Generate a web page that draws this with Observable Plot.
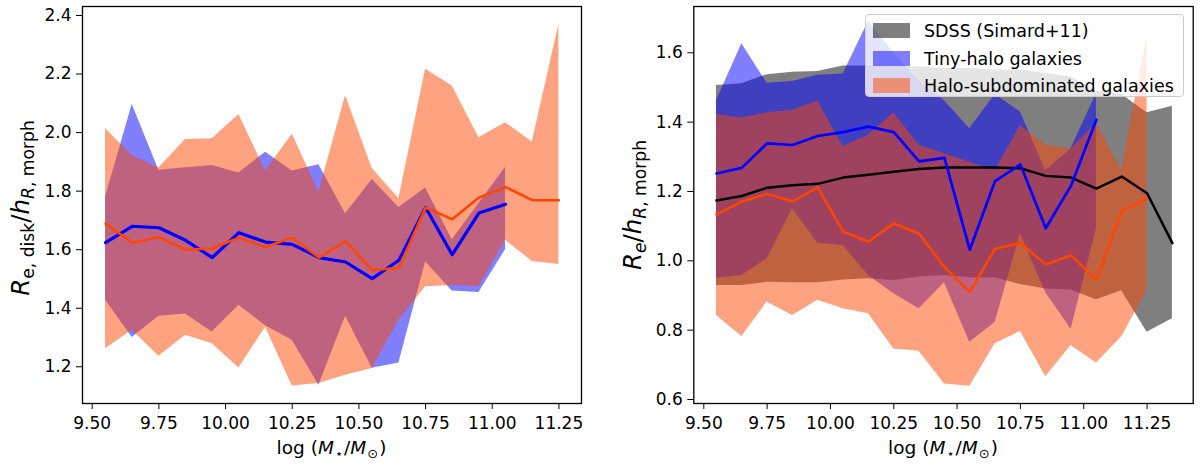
<!DOCTYPE html>
<html>
<head>
<meta charset="utf-8">
<script src="https://cdn.jsdelivr.net/npm/d3@7"></script>
<script src="https://cdn.jsdelivr.net/npm/@observablehq/plot@0.6"></script>
<style>
  html, body { margin: 0; padding: 0; background: #fff; }
  #wrap { position: relative; width: 1200px; height: 468px; font-family: "DejaVu Sans", sans-serif; color: #000; overflow: hidden; }
  .panel { position: absolute; top: 0; }
  .lbl { position: absolute; white-space: nowrap; font-family: "DejaVu Sans", sans-serif; line-height: 1; }
  .lbl i { font-style: italic; }
  .sub { font-size: 70%; position: relative; top: 0.3em; }
  .ylab { transform: translate(-50%, -50%) rotate(-90deg); font-size: 24.5px; }
  .xlab { transform: translate(-50%, -50%); font-size: 18.5px; }
  .xlab .sub { margin: 0 0.08em; }
  #legend { position: absolute; left: 865px; top: 14px; width: 319px; height: 83px; box-sizing: border-box;
            border: 1px solid #cccccc; border-radius: 4px; background: rgba(255,255,255,0.8); }
  .lrow { position: absolute; left: 0; height: 20px; font-size: 17.5px; white-space: nowrap; }
  .lpatch { position: absolute; left: 7px; top: 2px; width: 37px; height: 15px; }
  .ltext { position: absolute; left: 58px; top: 0px; line-height: 20px; }
</style>
</head>
<body>
<div id="wrap"></div>
<script>
// ---------- data ----------
// Left panel: R_e,disk / h_R,morph
const logMLeft = [9.55, 9.65, 9.75, 9.85, 9.95, 10.05, 10.15, 10.25, 10.35, 10.45, 10.55, 10.65, 10.75, 10.85, 10.95, 11.05, 11.15, 11.25];
const tinyDiskMed = [1.624, 1.680, 1.675, 1.632, 1.573, 1.658, 1.626, 1.618, 1.573, 1.558, 1.501, 1.564, 1.744, 1.583, 1.725, 1.755];
const tinyDiskLo  = [1.427, 1.300, 1.373, 1.380, 1.319, 1.410, 1.340, 1.291, 1.137, 1.373, 1.195, 1.213, 1.558, 1.459, 1.454, 1.600];
const tinyDiskHi  = [1.780, 2.096, 1.871, 1.880, 1.888, 1.862, 1.933, 1.869, 1.890, 1.723, 1.840, 1.744, 1.811, 1.634, 1.758, 1.882];
const subDiskMed = [1.689, 1.624, 1.643, 1.600, 1.604, 1.641, 1.609, 1.641, 1.573, 1.629, 1.530, 1.538, 1.744, 1.704, 1.778, 1.814, 1.769, 1.769];
const subDiskLo  = [1.262, 1.325, 1.236, 1.308, 1.279, 1.196, 1.335, 1.134, 1.143, 1.171, 1.194, 1.360, 1.473, 1.478, 1.473, 1.632, 1.560, 1.549];
const subDiskHi  = [2.013, 1.922, 1.879, 1.976, 1.979, 2.062, 1.869, 1.994, 1.797, 2.127, 1.877, 1.774, 2.216, 2.159, 1.982, 2.034, 1.968, 2.369];

// Right panel: R_e / h_R,morph
const logMRight = [9.55, 9.65, 9.75, 9.85, 9.95, 10.05, 10.15, 10.25, 10.35, 10.45, 10.55, 10.65, 10.75, 10.85, 10.95, 11.05, 11.15, 11.25, 11.35];
const sdssMed = [1.174, 1.187, 1.211, 1.218, 1.222, 1.240, 1.248, 1.257, 1.265, 1.269, 1.269, 1.269, 1.267, 1.245, 1.240, 1.208, 1.243, 1.195, 1.051];
const sdssLo  = [0.929, 0.929, 0.938, 0.937, 0.937, 0.945, 0.948, 0.943, 0.953, 0.958, 0.951, 0.951, 0.932, 0.919, 0.916, 0.888, 0.914, 0.794, 0.833];
const sdssHi  = [1.506, 1.511, 1.537, 1.544, 1.546, 1.562, 1.562, 1.560, 1.560, 1.555, 1.555, 1.550, 1.550, 1.540, 1.530, 1.490, 1.480, 1.427, 1.446];
const tinyMed = [1.252, 1.268, 1.339, 1.334, 1.360, 1.371, 1.387, 1.371, 1.287, 1.297, 1.032, 1.230, 1.278, 1.094, 1.217, 1.407];
const tinyLo  = [0.950, 0.958, 1.006, 1.150, 1.051, 1.044, 0.958, 0.905, 0.862, 0.937, 0.765, 0.822, 1.078, 0.908, 0.803, 1.092];
const tinyHi  = [1.462, 1.626, 1.512, 1.517, 1.535, 1.539, 1.690, 1.600, 1.520, 1.462, 1.381, 1.480, 1.429, 1.260, 1.323, 1.482];
const subMed = [1.134, 1.171, 1.193, 1.171, 1.212, 1.084, 1.055, 1.108, 1.078, 0.982, 0.910, 1.035, 1.052, 0.989, 1.016, 0.945, 1.143, 1.179];
const subLo  = [0.842, 0.782, 0.881, 0.842, 0.886, 0.862, 0.847, 0.746, 0.739, 0.645, 0.638, 0.761, 0.796, 0.666, 0.756, 0.705, 0.781, 0.915];
const subHi  = [1.422, 1.412, 1.427, 1.434, 1.461, 1.330, 1.362, 1.427, 1.333, 1.309, 1.284, 1.260, 1.390, 1.333, 1.323, 1.395, 1.260, 1.650];

const xTicks = [9.50, 9.75, 10.00, 10.25, 10.50, 10.75, 11.00, 11.25];
const yTicksLeft = [1.2, 1.4, 1.6, 1.8, 2.0, 2.2, 2.4];
const yTicksRight = [0.6, 0.8, 1.0, 1.2, 1.4, 1.6];

const legendLabels = ["SDSS (Simard+11)", "Tiny-halo galaxies", "Halo-subdominated galaxies"];

// ---------- build tables ----------
const rows = (xs, med, lo, hi) => med.map((m, i) => ({x: xs[i], med: m, lo: lo[i], hi: hi[i]}));
const tinyL = rows(logMLeft, tinyDiskMed, tinyDiskLo, tinyDiskHi);
const subL = rows(logMLeft, subDiskMed, subDiskLo, subDiskHi);
const sdssR = rows(logMRight, sdssMed, sdssLo, sdssHi);
const tinyR = rows(logMRight, tinyMed, tinyLo, tinyHi);
const subR = rows(logMRight, subMed, subLo, subHi);

const BLUE = "#0000ff", ORANGE = "#ff4500", BLACK = "#000000";
const styleObj = {fontFamily: "DejaVu Sans, sans-serif", fontSize: "17px", color: "black", background: "transparent", overflow: "visible"};

const axes = (yTicks) => [
  Plot.axisX({ticks: xTicks, tickFormat: d3.format(".2f"), tickSize: 6, tickPadding: 7, label: null}),
  Plot.axisY({ticks: yTicks, tickFormat: d3.format(".1f"), tickSize: 6, tickPadding: 5, label: null}),
  Plot.frame({stroke: "black", strokeWidth: 1.3})
];

const left = Plot.plot({
  width: 600, height: 468,
  marginLeft: 82, marginRight: 19, marginTop: 6, marginBottom: 65,
  x: {domain: [9.4636, 11.3347]},
  y: {domain: [1.0746, 2.4307]},
  style: styleObj,
  marks: [
    Plot.areaY(tinyL, {x: "x", y1: "lo", y2: "hi", fill: BLUE, fillOpacity: 0.5}),
    Plot.areaY(subL, {x: "x", y1: "lo", y2: "hi", fill: ORANGE, fillOpacity: 0.5}),
    Plot.lineY(tinyL, {x: "x", y: "med", stroke: BLUE, strokeWidth: 3.2}),
    Plot.lineY(subL, {x: "x", y: "med", stroke: ORANGE, strokeWidth: 2.5}),
    ...axes(yTicksLeft)
  ]
});

const right = Plot.plot({
  width: 600, height: 468,
  marginLeft: 93.3, marginRight: 7.3, marginTop: 6, marginBottom: 65,
  x: {domain: [9.4605, 11.4322]},
  y: {domain: [0.5885, 1.7335]},
  style: styleObj,
  marks: [
    Plot.areaY(sdssR, {x: "x", y1: "lo", y2: "hi", fill: BLACK, fillOpacity: 0.5}),
    Plot.areaY(tinyR, {x: "x", y1: "lo", y2: "hi", fill: BLUE, fillOpacity: 0.5}),
    Plot.areaY(subR, {x: "x", y1: "lo", y2: "hi", fill: ORANGE, fillOpacity: 0.5}),
    Plot.lineY(sdssR, {x: "x", y: "med", stroke: BLACK, strokeWidth: 2.5}),
    Plot.lineY(tinyR, {x: "x", y: "med", stroke: BLUE, strokeWidth: 2.7}),
    Plot.lineY(subR, {x: "x", y: "med", stroke: ORANGE, strokeWidth: 2.5}),
    ...axes(yTicksRight)
  ]
});

const wrap = document.getElementById("wrap");
left.classList.add("panel"); left.style.left = "0px";
right.classList.add("panel"); right.style.left = "600px";
wrap.appendChild(left);
wrap.appendChild(right);

// ---------- labels ----------
function addLabel(html, cls, x, y) {
  const d = document.createElement("div");
  d.className = "lbl " + cls;
  d.style.left = x + "px";
  d.style.top = y + "px";
  d.innerHTML = html;
  wrap.appendChild(d);
}
const xlabHTML = 'log (<i>M</i><span class="sub">⋆</span>/<i>M</i><span class="sub">⊙</span>)';
addLabel(xlabHTML, "xlab", 331.5, 448);
addLabel(xlabHTML, "xlab", 943, 448);
addLabel('<i>R</i><span class="sub">e, disk</span>/<i>h</i><span class="sub"><i>R</i>, morph</span>', "ylab", 21, 208);
addLabel('<i>R</i><span class="sub"><i>e</i></span>/<i>h</i><span class="sub"><i>R</i>, morph</span>', "ylab", 633, 205);

// ---------- legend ----------
const legendColors = ["rgba(0,0,0,0.5)", "rgba(0,0,255,0.5)", "rgba(255,69,0,0.5)"];
const leg = document.createElement("div");
leg.id = "legend";
legendLabels.forEach((t, i) => {
  const r = document.createElement("div");
  r.className = "lrow";
  r.style.top = (6 + i * 27.5) + "px";
  r.innerHTML = `<div class="lpatch" style="background:${legendColors[i]}"></div><div class="ltext">${t}</div>`;
  leg.appendChild(r);
});
wrap.appendChild(leg);
</script>
</body>
</html>
